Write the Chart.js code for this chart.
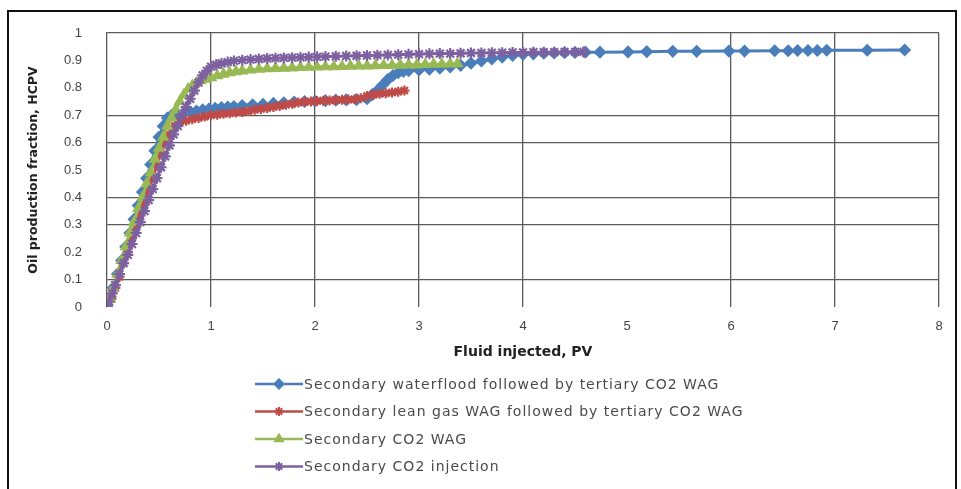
<!DOCTYPE html>
<html>
<head>
<meta charset="utf-8">
<script src="https://cdn.jsdelivr.net/npm/chart.js@4/dist/chart.umd.min.js"></script>
<style>
  body { margin: 0; background: #fff; }
  #wrap { position: relative; width: 961px; height: 489px; overflow: hidden; }
  #frame { position: absolute; left: 7px; top: 10px; width: 946px; height: 500px; border: 2px solid #111; pointer-events: none; }
</style>
</head>
<body>
<div id="wrap">
  <canvas id="recovery_chart" width="961" height="489"></canvas>
  <div id="frame"></div>
</div>
<script>
var seriesNames = [
  'Secondary waterflood followed by tertiary CO2 WAG',
  'Secondary lean gas WAG followed by tertiary CO2 WAG',
  'Secondary CO2 WAG',
  'Secondary CO2 injection'
];

// Fluid injected, PV  /  Oil production fraction, HCPV
var waterX = [0, 0.03, 0.06, 0.1, 0.14, 0.18, 0.22, 0.26, 0.3, 0.34, 0.38, 0.42, 0.46, 0.5, 0.54, 0.58, 0.62, 0.68, 0.74, 0.8, 0.86, 0.92, 0.98, 1.04, 1.1, 1.16, 1.22, 1.3, 1.4, 1.5, 1.6, 1.7, 1.8, 1.9, 2.0, 2.1, 2.2, 2.3, 2.4, 2.5, 2.55, 2.6, 2.65, 2.7, 2.75, 2.8, 2.85, 2.9, 3.0, 3.1, 3.2, 3.3, 3.4, 3.5, 3.6, 3.7, 3.8, 3.9, 4.0, 4.1, 4.2, 4.3, 4.4, 4.5, 4.6, 4.74, 5.01, 5.19, 5.44, 5.67, 5.98, 6.13, 6.42, 6.55, 6.64, 6.74, 6.83, 6.92, 7.31, 7.67];
var waterY = [0, 0.03, 0.07, 0.12, 0.17, 0.22, 0.27, 0.32, 0.37, 0.42, 0.47, 0.52, 0.57, 0.62, 0.66, 0.69, 0.7, 0.705, 0.71, 0.712, 0.715, 0.72, 0.722, 0.725, 0.728, 0.73, 0.732, 0.735, 0.738, 0.74, 0.743, 0.745, 0.748, 0.75, 0.752, 0.753, 0.755, 0.756, 0.757, 0.76, 0.775, 0.79, 0.81, 0.83, 0.845, 0.855, 0.86, 0.862, 0.865, 0.868, 0.872, 0.876, 0.882, 0.89, 0.898, 0.905, 0.912, 0.918, 0.922, 0.924, 0.926, 0.927, 0.928, 0.929, 0.93, 0.93, 0.931, 0.932, 0.933, 0.933, 0.934, 0.934, 0.935, 0.935, 0.936, 0.936, 0.936, 0.937, 0.937, 0.938];

var leanX = [0, 0.04, 0.08, 0.12, 0.16, 0.2, 0.24, 0.28, 0.32, 0.36, 0.4, 0.44, 0.48, 0.52, 0.56, 0.6, 0.65, 0.7, 0.76, 0.82, 0.88, 0.94, 1.0, 1.06, 1.12, 1.18, 1.24, 1.3, 1.36, 1.42, 1.48, 1.54, 1.6, 1.66, 1.72, 1.78, 1.84, 1.9, 1.96, 2.02, 2.08, 2.14, 2.2, 2.26, 2.32, 2.38, 2.44, 2.5, 2.56, 2.62, 2.68, 2.74, 2.8, 2.86];
var leanY = [0, 0.03, 0.07, 0.11, 0.16, 0.2, 0.25, 0.29, 0.34, 0.38, 0.43, 0.47, 0.52, 0.56, 0.6, 0.63, 0.66, 0.675, 0.68, 0.685, 0.69, 0.695, 0.7, 0.702, 0.705, 0.707, 0.71, 0.712, 0.715, 0.72, 0.723, 0.726, 0.73, 0.734, 0.738, 0.742, 0.746, 0.749, 0.75, 0.752, 0.753, 0.754, 0.755, 0.756, 0.757, 0.758, 0.762, 0.77, 0.775, 0.778, 0.78, 0.783, 0.786, 0.79];

var wagX = [0, 0.03, 0.06, 0.1, 0.14, 0.18, 0.22, 0.26, 0.3, 0.34, 0.38, 0.42, 0.46, 0.5, 0.54, 0.58, 0.62, 0.66, 0.7, 0.74, 0.78, 0.82, 0.86, 0.9, 0.95, 1.0, 1.06, 1.12, 1.18, 1.24, 1.3, 1.38, 1.46, 1.54, 1.62, 1.7, 1.78, 1.86, 1.94, 2.02, 2.1, 2.18, 2.26, 2.34, 2.42, 2.5, 2.58, 2.66, 2.74, 2.82, 2.9, 2.98, 3.06, 3.14, 3.22, 3.3, 3.37];
var wagY = [0, 0.03, 0.07, 0.12, 0.17, 0.22, 0.27, 0.31, 0.36, 0.4, 0.45, 0.49, 0.54, 0.58, 0.62, 0.66, 0.69, 0.72, 0.75, 0.775, 0.795, 0.808, 0.818, 0.826, 0.832, 0.837, 0.844, 0.85, 0.855, 0.859, 0.862, 0.865, 0.868, 0.87, 0.871, 0.872, 0.873, 0.874, 0.875, 0.876, 0.877, 0.877, 0.878, 0.879, 0.88, 0.88, 0.881, 0.882, 0.882, 0.883, 0.884, 0.884, 0.885, 0.886, 0.886, 0.887, 0.888];

var injX = [0, 0.02, 0.05, 0.08, 0.12, 0.16, 0.2, 0.24, 0.28, 0.32, 0.36, 0.4, 0.44, 0.48, 0.52, 0.56, 0.6, 0.64, 0.68, 0.72, 0.76, 0.8, 0.84, 0.88, 0.92, 0.96, 1.0, 1.05, 1.1, 1.16, 1.22, 1.3, 1.38, 1.46, 1.54, 1.62, 1.7, 1.78, 1.86, 1.94, 2.02, 2.1, 2.2, 2.3, 2.4, 2.5, 2.6, 2.7, 2.8, 2.9, 3.0, 3.1, 3.2, 3.3, 3.4, 3.5, 3.6, 3.7, 3.8, 3.9, 4.0, 4.1, 4.2, 4.3, 4.4, 4.5, 4.58];
var injY = [0, 0.02, 0.05, 0.08, 0.12, 0.16, 0.19, 0.23, 0.27, 0.31, 0.35, 0.39, 0.43, 0.47, 0.51, 0.55, 0.59, 0.63, 0.66, 0.7, 0.73, 0.76, 0.79, 0.82, 0.845, 0.862, 0.877, 0.884, 0.889, 0.894, 0.898, 0.901, 0.903, 0.905, 0.907, 0.908, 0.909, 0.91, 0.911, 0.912, 0.913, 0.914, 0.915, 0.916, 0.917, 0.918, 0.919, 0.92, 0.921, 0.922, 0.923, 0.924, 0.925, 0.925, 0.926, 0.927, 0.927, 0.928, 0.928, 0.929, 0.929, 0.93, 0.93, 0.93, 0.931, 0.931, 0.931];

var xTicks = [0, 1, 2, 3, 4, 5, 6, 7, 8];
var yTicks = [0, 0.1, 0.2, 0.3, 0.4, 0.5, 0.6, 0.7, 0.8, 0.9, 1];

function pts(xs, ys) {
  return xs.map(function (x, i) { return { x: x, y: ys[i] }; });
}

// the scanned gridlines that survived
var keepY = [0.1, 0.3, 0.4, 0.6, 0.7, 1];
var keepX = [1, 2, 3, 4, 6, 7, 8];
var gridCol = '#5a5a5a';

var legendRows = {
  id: 'legendRows',
  afterDraw: function (chart) {
    var ctx = chart.ctx;
    ctx.save();
    chart.data.datasets.forEach(function (ds, i) {
      var y = 384 + i * 27.5;
      ctx.strokeStyle = ds.borderColor;
      ctx.lineWidth = 2.5;
      ctx.beginPath();
      ctx.moveTo(255, y);
      ctx.lineTo(303, y);
      ctx.stroke();
      ctx.fillStyle = ds.backgroundColor;
      ctx.lineWidth = 2;
      Chart.helpers.drawPoint(ctx, { pointStyle: ds.pointStyle, radius: 4.5, borderWidth: 2, rotation: 0 }, 279, y);
      ctx.fillStyle = '#4a4a4a';
      ctx.font = '14px "DejaVu Sans"';
      ctx.letterSpacing = '1px';
      ctx.textBaseline = 'middle';
      ctx.fillText(ds.label, 304, y + 1);
    });
    ctx.restore();
  }
};

var context = document.querySelector('#recovery_chart').getContext('2d');
new Chart(context, {
  type: 'scatter',
  data: {
    datasets: [{
      label: seriesNames[0],
      data: pts(waterX, waterY),
      borderColor: '#4a7ebb', backgroundColor: '#4a7ebb',
      pointStyle: 'rectRot', pointRadius: 5, order: 4
    }, {
      label: seriesNames[1],
      data: pts(leanX, leanY),
      borderColor: '#be4b48', backgroundColor: '#be4b48',
      pointStyle: 'star', pointRadius: 5, order: 3
    }, {
      label: seriesNames[2],
      data: pts(wagX, wagY),
      borderColor: '#98b954', backgroundColor: '#98b954',
      pointStyle: 'triangle', pointRadius: 5, order: 2
    }, {
      label: seriesNames[3],
      data: pts(injX, injY),
      borderColor: '#7d60a0', backgroundColor: '#7d60a0',
      pointStyle: 'star', pointRadius: 5.5, order: 1
    }]
  },
  options: {
    responsive: false,
    animation: false,
    showLine: true,
    layout: { padding: { left: 0, right: 22, top: 33, bottom: 0 } },
    elements: {
      line: { borderWidth: 3, tension: 0 },
      point: { radius: 5, borderWidth: 2.2, hoverRadius: 5 }
    },
    plugins: {
      legend: { display: false },
      tooltip: { enabled: false }
    },
    scales: {
      x: {
        type: 'linear', min: 0, max: 8,
        afterBuildTicks: function (s) { s.ticks = xTicks.map(function (v) { return { value: v }; }); },
        afterFit: function (s) { s.height = 182; },
        grid: {
          drawTicks: false, lineWidth: 1.3,
          color: function (c) { return keepX.indexOf(c.tick.value) >= 0 ? gridCol : 'rgba(0,0,0,0)'; }
        },
        border: { display: false },
        ticks: {
          padding: 12, color: '#444', font: { family: 'Liberation Sans', size: 13 },
          callback: function (v) { return String(v); }
        },
        title: {
          display: true, text: 'Fluid injected, PV', color: '#222',
          font: { family: 'DejaVu Sans', size: 14, weight: 'bold' },
          padding: { top: 4, bottom: 128 }
        }
      },
      y: {
        type: 'linear', min: 0, max: 1,
        afterBuildTicks: function (s) { s.ticks = yTicks.map(function (v) { return { value: v }; }); },
        afterFit: function (s) { s.width = 107; },
        grid: {
          drawTicks: false, lineWidth: 1.3,
          color: function (c) { return keepY.indexOf(c.tick.value) >= 0 ? gridCol : 'rgba(0,0,0,0)'; }
        },
        border: { display: true, color: gridCol, width: 1.3 },
        ticks: {
          padding: 25, color: '#444', font: { family: 'Liberation Sans', size: 13 },
          callback: function (v) { return String(v); }
        },
        title: {
          display: true, text: 'Oil production fraction, HCPV', color: '#222',
          font: { family: 'DejaVu Sans', size: 12.5, weight: 'bold' },
          padding: { top: 26, bottom: 0 }
        }
      }
    }
  },
  plugins: [legendRows]
});
</script>
</body>
</html>
